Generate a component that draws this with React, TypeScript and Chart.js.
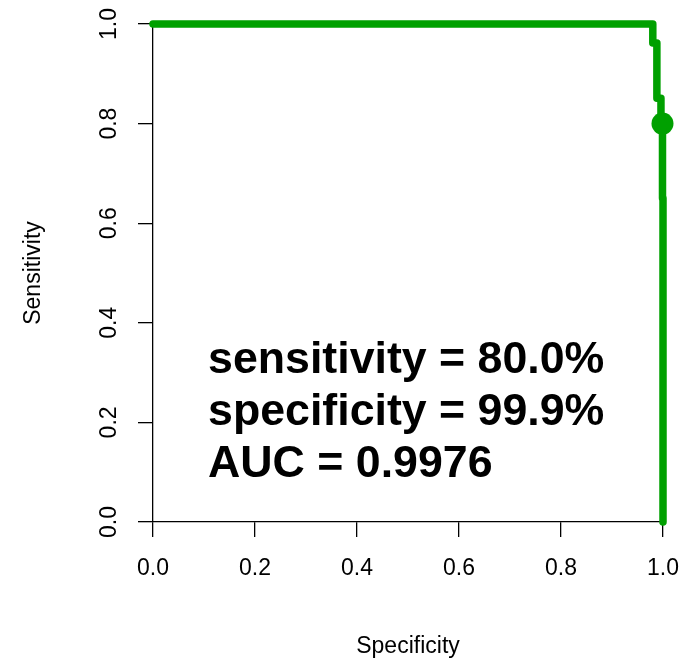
import React, { useEffect, useRef } from "react";
import { Chart, registerables } from "chart.js";

Chart.register(...registerables);

// ROC curve (specificity on x, sensitivity on y)
const specificity = [0, 0.98, 0.98, 0.988, 0.988, 0.996, 0.996, 0.999, 0.999, 1.0, 1.0];
const sensitivity = [1, 1, 0.962, 0.962, 0.851, 0.851, 0.8, 0.8, 0.65, 0.65, 0];
const bestPointSpec = [0.999];
const bestPointSens = [0.8];
const tickValues = [0, 0.2, 0.4, 0.6, 0.8, 1.0];
const annotationLines = ["sensitivity = 80.0%", "specificity = 99.9%", "AUC = 0.9976"];
const annotationX = 0.108;
const annotationY = [0.3, 0.195, 0.09];
const xTitle = "Specificity";
const yTitle = "Sensitivity";

const GREEN = "#00A000";
const FONT = '"Liberation Sans", Arial, sans-serif';

const annotationPlugin = {
  id: "rocText",
  afterDatasetsDraw(chart: any) {
    const { ctx, scales } = chart;
    ctx.save();
    ctx.fillStyle = "#000";
    ctx.font = `bold 44.7px ${FONT}`;
    ctx.textAlign = "left";
    ctx.textBaseline = "alphabetic";
    annotationLines.forEach((t, i) => {
      const x = scales.x.getPixelForValue(annotationX);
      const y = scales.y.getPixelForValue(annotationY[i]);
      ctx.fillText(t, x, y);
    });
    ctx.restore();
  },
};

export default function App() {
  const ref = useRef<HTMLCanvasElement>(null);
  useEffect(() => {
    if (!ref.current) return;
    const tickFont = { family: FONT, size: 23 };
    const chart = new Chart(ref.current, {
      type: "scatter",
      data: {
        datasets: [
          {
            type: "line",
            data: specificity.map((s, i) => ({ x: s, y: sensitivity[i] })),
            borderColor: GREEN,
            backgroundColor: GREEN,
            borderWidth: 7.5,
            pointRadius: 0,
            borderCapStyle: "round",
            borderJoinStyle: "round",
            tension: 0,
            fill: false,
            clip: false,
          } as any,
          {
            type: "scatter",
            data: bestPointSpec.map((s, i) => ({ x: s, y: bestPointSens[i] })),
            backgroundColor: GREEN,
            borderColor: GREEN,
            pointRadius: 11,
            borderWidth: 0,
            clip: false,
          } as any,
        ],
      },
      options: {
        responsive: false,
        animation: false,
        devicePixelRatio: 1,
        layout: { padding: { top: 24, right: 30, left: 0, bottom: 0 } },
        plugins: { legend: { display: false }, tooltip: { enabled: false } },
        scales: {
          x: {
            type: "linear",
            min: 0,
            max: 1,
            afterFit: (s: any) => {
              s.height = 136;
              s.paddingLeft = 0;
              s.paddingRight = 0;
            },
            afterBuildTicks: (s: any) => {
              s.ticks = tickValues.map((v) => ({ value: v }));
            },
            ticks: {
              color: "#000",
              font: tickFont,
              padding: 18,
              maxRotation: 0,
              minRotation: 0,
              callback: (v: any) => Number(v).toFixed(1),
            },
            grid: {
              display: true,
              drawOnChartArea: false,
              drawTicks: true,
              tickLength: 15,
              color: "#000",
              lineWidth: 1.3,
            },
            border: { display: true, color: "#000", width: 1.3 },
            title: {
              display: true,
              text: xTitle,
              color: "#000",
              font: { family: FONT, size: 23, lineHeight: 1 },
              padding: { top: 0, bottom: 0 },
            },
          },
          y: {
            type: "linear",
            min: 0,
            max: 1,
            afterFit: (s: any) => {
              s.width = 153;
              s.paddingTop = 0;
              s.paddingBottom = 0;
            },
            afterBuildTicks: (s: any) => {
              s.ticks = tickValues.map((v) => ({ value: v }));
            },
            ticks: {
              color: "#000",
              font: tickFont,
              padding: 12,
              minRotation: 90,
              maxRotation: 90,
              crossAlign: "center",
              callback: (v: any) => Number(v).toFixed(1),
            },
            grid: {
              display: true,
              drawOnChartArea: false,
              drawTicks: true,
              tickLength: 15,
              color: "#000",
              lineWidth: 1.3,
            },
            border: { display: true, color: "#000", width: 1.3 },
            title: {
              display: true,
              text: yTitle,
              color: "#000",
              font: { family: FONT, size: 23, lineHeight: 1 },
              padding: { top: 22, bottom: 0 },
            },
          },
        },
      },
      plugins: [annotationPlugin],
    } as any);
    return () => chart.destroy();
  }, []);

  return (
    <div style={{ position: "fixed", left: 0, top: 0, width: 693, height: 658, background: "#fff" }}>
      <canvas ref={ref} width={693} height={658} style={{ width: 693, height: 658, display: "block" }} />
    </div>
  );
}
